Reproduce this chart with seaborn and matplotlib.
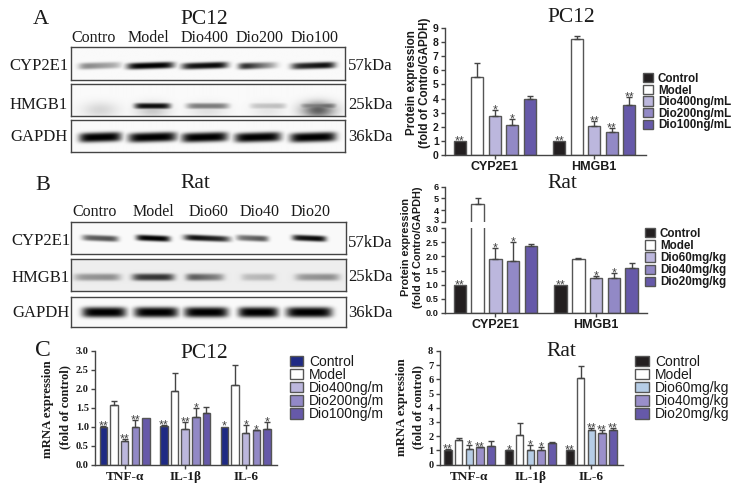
import matplotlib
matplotlib.use("Agg")
import matplotlib.pyplot as plt
from matplotlib.transforms import ScaledTranslation
import seaborn as sns
import pandas as pd
import numpy as np

W, H = 738, 487
SERIF = "Liberation Serif"
SANS = "Liberation Sans"
EDGE = "#555555"

# --- bar chart values ---
genes_protein = ["CYP2E1", "HMGB1"]
genes_mrna = ["TNF-α", "IL-1β", "IL-6"]

groups_a = ["Control", "Model", "Dio400ng/mL", "Dio200ng/mL", "Dio100ng/mL"]
values_a = [[1.0, 5.55, 2.75, 2.1, 3.95], [1.0, 8.2, 2.05, 1.6, 3.55]]
tops_a = [[1.0, 6.55, 3.2, 2.55, 4.2], [1.0, 8.45, 2.4, 1.9, 4.1]]
stars_a = [["**", "", "*", "*", ""], ["**", "", "**", "**", "**"]]

groups_b = ["Control", "Model", "Dio60mg/kg", "Dio40mg/kg", "Dio20mg/kg"]
values_b = [[1.0, 4.5, 1.9, 1.82, 2.37], [1.0, 1.9, 1.23, 1.23, 1.58]]
tops_b = [[1.0, 5.05, 2.3, 2.5, 2.42], [1.0, 1.93, 1.3, 1.4, 1.75]]
stars_b = [["**", "", "*", "*", ""], ["**", "", "*", "*", ""]]

groups_c1 = ["Control", "Model", "Dio400ng/m", "Dio200ng/m", "Dio100ng/m"]
values_c1 = [[1.0, 1.58, 0.62, 1.0, 1.23], [1.02, 1.94, 0.93, 1.25, 1.36], [1.0, 2.1, 0.82, 0.9, 0.93]]
tops_c1 = [[1.03, 1.67, 0.68, 1.18, 1.24], [1.04, 2.43, 1.12, 1.5, 1.51], [1.01, 2.62, 1.04, 0.92, 1.12]]
stars_c1 = [["**", "", "**", "**", ""], ["**", "", "**", "*", ""], ["*", "", "*", "*", "*"]]

groups_c2 = ["Control", "Model", "Dio60mg/kg", "Dio40mg/kg", "Dio20mg/kg"]
values_c2 = [[1.05, 1.72, 1.07, 1.2, 1.3], [1.02, 2.07, 1.05, 1.02, 1.52], [1.02, 6.1, 2.4, 2.22, 2.42]]
tops_c2 = [[1.08, 1.85, 1.35, 1.25, 1.65], [1.04, 2.95, 1.35, 1.25, 1.57], [1.05, 6.95, 2.55, 2.45, 2.55]]
stars_c2 = [["**", "", "*", "**", ""], ["*", "", "*", "*", ""], ["**", "", "**", "**", "**"]]

palette_purple = ["#231f20", "#ffffff", "#bcb7dd", "#9289c6", "#6659a9"]
palette_navy = ["#1f2a84", "#ffffff", "#bcb7dd", "#9289c6", "#6659a9"]
palette_blue = ["#231f20", "#ffffff", "#b6cde6", "#9a8fca", "#6659a9"]

# --- western blots: band darkness per lane, left and right end of the band ---
lanes_a = ["Contro", "Model", "Dio400", "Dio200", "Dio100"]
lanes_b = ["Contro", "Model", "Dio60", "Dio40", "Dio20"]
a_cyp_left = [0.5, 1.0, 0.9, 1.0, 0.8]
a_cyp_right = [0.28, 1.0, 1.0, 0.2, 1.0]
a_hmgb_left = [0.03, 0.95, 0.5, 0.2, 0.45]
a_hmgb_right = [0.05, 0.95, 0.5, 0.25, 0.6]
a_hmgb_smear = [0.14, 0.2, 0.1, 0.08, 0.62]
a_gapdh_left = [1.0, 1.0, 1.0, 1.0, 1.0]
a_gapdh_right = [1.0, 1.0, 1.0, 1.0, 1.0]
b_cyp_left = [0.6, 1.0, 1.0, 0.5, 0.9]
b_cyp_right = [0.7, 1.0, 0.8, 0.7, 1.0]
b_hmgb_left = [0.35, 0.75, 0.68, 0.2, 0.35]
b_hmgb_right = [0.42, 0.8, 0.4, 0.25, 0.42]
b_gapdh_left = [1.0, 1.0, 1.0, 1.0, 1.0]
b_gapdh_right = [1.0, 1.0, 1.0, 1.0, 1.0]

sns.set_theme(style="ticks")
plt.rcParams["font.family"] = [SANS, "DejaVu Sans"]
fig = plt.figure(figsize=(W / 100, H / 100), dpi=100)


def px_axes(x0, y0, x1, y1):
    return fig.add_axes([x0 / W, 1 - y1 / H, (x1 - x0) / W, (y1 - y0) / H])


def px_text(x, y, s, size=12, family=SERIF, ha="center", weight="normal", rotation=0, color="#1a1a1a"):
    fig.text(x / W, 1 - y / H, s, fontsize=size, family=family, ha=ha, va="center",
             weight=weight, rotation=rotation, color=color)


def draw_blot(rect, centers, widths, left, right, y_frac, thick, tilt=0.0, smear=None, bg=0.98):
    x0, y0, x1, y1 = rect
    ax = px_axes(x0, y0, x1, y1)
    xs, ys = np.meshgrid(np.arange(x0, x1, 0.5), np.arange(y0, y1, 0.5))
    yc = y0 + y_frac * (y1 - y0)
    dark = np.zeros_like(xs)
    for i, c in enumerate(centers):
        w = widths[i]
        line = yc - tilt * (xs - c)
        across = np.exp(-np.abs((ys - line) / thick) ** 3)
        along = np.exp(-((xs - c) / (w * 0.5)) ** 6)
        share = np.clip((xs - c) / w + 0.5, 0, 1)
        level = left[i] + (right[i] - left[i]) * share
        dark = np.maximum(dark, level * along * across)
        if smear is not None:
            blob = np.exp(-((xs - c) / (w * 0.45)) ** 2 - ((ys - (yc + 4)) / 8.0) ** 2)
            dark = np.maximum(dark, smear[i] * blob)
    ax.imshow(bg - dark * bg, cmap="gray", vmin=0, vmax=1, aspect="auto", interpolation="bilinear")
    ax.set_xticks([])
    ax.set_yticks([])
    for s in ax.spines.values():
        s.set_color("#444444")
        s.set_linewidth(1.0)


def long_table(cats, groups, values):
    rows = []
    for j, cat in enumerate(cats):
        for i, g in enumerate(groups):
            rows.append({"cat": cat, "group": g, "value": values[j][i]})
    return pd.DataFrame(rows)


def draw_bars(ax, cats, groups, values, tops, stars, palette, legend=False, star_size=9):
    df = long_table(cats, groups, values)
    sns.barplot(data=df, x="cat", y="value", hue="group", hue_order=groups, order=cats, palette=palette,
                saturation=1, width=0.88, gap=0.3, errorbar=None, edgecolor=EDGE, linewidth=1.0,
                legend=legend, ax=ax)
    # the errorbars add containers too, so keep only the bars
    for i, cont in enumerate(list(ax.containers)[:len(groups)]):
        for j, bar in enumerate(cont):
            x = bar.get_x() + bar.get_width() / 2
            up = tops[j][i] - values[j][i]
            if up > 0.02:
                ax.errorbar(x, values[j][i], yerr=[[0], [up]], fmt="none", ecolor="#444444",
                            elinewidth=1.0, capsize=2, capthick=1.0)
            if stars[j][i]:
                ax.annotate(stars[j][i], (x, tops[j][i]), xytext=(0, -2.5), textcoords="offset points",
                            ha="center", va="baseline", fontsize=star_size, color="#444444", family=SANS)
    ax.set_xlabel("")
    ax.set_ylabel("")
    sns.despine(ax=ax)
    for s in ("left", "bottom"):
        ax.spines[s].set_color("#444444")
        ax.spines[s].set_linewidth(1.0)
    ax.tick_params(labelcolor="#1a1a1a", color="#444444", length=3, width=1.0, pad=1.5)


def style_labels(ax, family, tick_size, cat_size):
    for t in ax.get_yticklabels():
        t.set_fontsize(tick_size)
        t.set_family(family)
        t.set_weight("bold")
    for t in ax.get_xticklabels():
        t.set_fontsize(cat_size)
        t.set_family(family)
        t.set_weight("bold")


def place_legend(ax, x, y, size, hw, hh, pitch, weight="bold"):
    fs_px = size * 100 / 72
    ax.legend(frameon=False, loc="upper left", bbox_to_anchor=(x / W, 1 - y / H), bbox_transform=fig.transFigure,
              borderpad=0, borderaxespad=0, prop={"family": SANS, "size": size, "weight": weight},
              handlelength=hw / fs_px, handleheight=hh / fs_px, handletextpad=0.42,
              labelspacing=(pitch - max(hh, fs_px)) / fs_px, labelcolor="#1a1a1a")


# panel letters and titles
px_text(41, 19, "A", size=16)
px_text(43, 185, "B", size=16)
px_text(43, 350, "C", size=17)
px_text(204, 19, "PC12", size=15.5)
px_text(571, 18, "PC12", size=15.5)
px_text(195, 183, "Rat", size=15.5)
px_text(562, 184, "Rat", size=15.5)
px_text(204, 354, "PC12", size=15.5)
px_text(561, 352, "Rat", size=15.5)

# panel A blots
for x, name in zip([94, 148, 205, 260, 315], lanes_a):
    px_text(x, 38, name, size=11.5)
draw_blot((71, 47, 345, 80), [100, 150, 204, 258, 312], [42, 47, 46, 40, 44], a_cyp_left, a_cyp_right, 0.57, 3.2, tilt=0.03)
draw_blot((71, 84, 345, 116), [100, 152, 207, 267, 317], [40, 36, 42, 36, 36], a_hmgb_left, a_hmgb_right, 0.68, 3.0, smear=a_hmgb_smear)
draw_blot((71, 120, 345, 152), [100, 152, 204, 257, 312], [42, 48, 46, 46, 46], a_gapdh_left, a_gapdh_right, 0.53, 4.8, tilt=0.03)
for y, name, kda in zip([66, 105, 137], ["CYP2E1", "HMGB1", "GAPDH"], ["57kDa", "25kDa", "36kDa"]):
    px_text(68, y, name, ha="right")
    px_text(348, y, kda, ha="left")

# panel B blots
for x, name in zip([95, 153, 209, 260, 311], lanes_b):
    px_text(x, 212, name, size=11.5)
draw_blot((71, 222, 346, 254), [100, 153, 207, 252, 309], [36, 34, 46, 32, 34], b_cyp_left, b_cyp_right, 0.5, 3.0, tilt=-0.04)
draw_blot((71, 259, 346, 291), [97, 153, 205, 258, 317], [46, 42, 38, 34, 44], b_hmgb_left, b_hmgb_right, 0.56, 3.6, bg=0.93)
draw_blot((71, 297, 346, 327), [104, 156, 206, 258, 309], [44, 44, 44, 40, 46], b_gapdh_left, b_gapdh_right, 0.5, 5.2)
for y, y2, name, kda in zip([241, 278, 313], [243, 277, 313], ["CYP2E1", "HMGB1", "GAPDH"], ["57kDa", "25kDa", "36kDa"]):
    px_text(70, y, name, ha="right")
    px_text(348, y2, kda, ha="left")

# top right: PC12 protein
ax_a = px_axes(445, 28, 646, 155)
draw_bars(ax_a, genes_protein, groups_a, values_a, tops_a, stars_a, palette_purple, legend=True)
ax_a.set_ylim(0, 9)
ax_a.set_yticks(range(0, 10))
ax_a.set_xlim(-0.5, 1.52)
style_labels(ax_a, SANS, 7.5, 9)
place_legend(ax_a, 643, 73, 8.4, 10, 9.5, 11.2)
px_text(412.5, 83, "Protein expression", size=8.4, family=SANS, weight="bold", rotation=90)
px_text(425.5, 83, "(fold of Contro/GAPDH)", size=8.4, family=SANS, weight="bold", rotation=90)

# middle right: rat protein, broken axis
ax_b = px_axes(445, 228, 647, 313)
draw_bars(ax_b, genes_protein, groups_b, values_b, tops_b, stars_b, palette_purple, legend=True)
ax_b.set_ylim(0, 3)
ax_b.set_yticks(np.arange(0, 3.1, 0.5))
ax_b.set_yticklabels(["0.0", "0.5", "1.0", "1.5", "2.0", "2.5", "3.0"])
ax_b.set_xlim(-0.5, 1.505)
style_labels(ax_b, SANS, 6.6, 9)
place_legend(ax_b, 645, 228, 8.4, 10, 9.5, 11.7)

ax_b_top = px_axes(445, 186.5, 647, 222)
draw_bars(ax_b_top, genes_protein, groups_b, values_b, tops_b, [[""] * 5, [""] * 5], palette_purple)
ax_b_top.set_ylim(3, 6)
ax_b_top.set_yticks([3, 4, 5, 6])
ax_b_top.set_xlim(-0.5, 1.505)
ax_b_top.spines["bottom"].set_visible(False)
ax_b_top.tick_params(axis="x", bottom=False, labelbottom=False)
style_labels(ax_b_top, SANS, 6.6, 9)
# keep the two labels at the axis break apart
label_3 = ax_b_top.get_yticklabels()[0]
label_3.set_transform(label_3.get_transform() + ScaledTranslation(0, 2 / 72, fig.dpi_scale_trans))
px_text(406, 247, "Protein expression", size=7.8, family=SANS, weight="bold", rotation=90)
px_text(418.5, 247, "(fold of Contro/GAPDH)", size=7.8, family=SANS, weight="bold", rotation=90)

# bottom left: PC12 mRNA
ax_c1 = px_axes(95, 351, 277, 464.5)
draw_bars(ax_c1, genes_mrna, groups_c1, values_c1, tops_c1, stars_c1, palette_navy, legend=True)
ax_c1.set_ylim(0, 3)
ax_c1.set_yticks(np.arange(0, 3.1, 0.5))
ax_c1.set_yticklabels(["0.0", "0.5", "1.0", "1.5", "2.0", "2.5", "3.0"])
ax_c1.set_xlim(-0.49, 2.517)
style_labels(ax_c1, SERIF, 7.5, 9.5)
place_legend(ax_c1, 290, 355, 10, 13, 10.5, 13, weight="normal")
px_text(48, 409, "mRNA expression", size=9.2, weight="bold", rotation=90)
px_text(65, 407, "(fold of control)", size=9, weight="bold", rotation=90)

# bottom right: rat mRNA
ax_c2 = px_axes(439.5, 351, 623, 464.5)
draw_bars(ax_c2, genes_mrna, groups_c2, values_c2, tops_c2, stars_c2, palette_blue, legend=True)
ax_c2.set_ylim(0, 8)
ax_c2.set_yticks(range(0, 9))
ax_c2.set_xlim(-0.49, 2.52)
style_labels(ax_c2, SERIF, 7.5, 9.5)
place_legend(ax_c2, 635, 355, 10, 14, 10.5, 13, weight="normal")
px_text(402, 407, "mRNA expression", size=9.2, weight="bold", rotation=90)
px_text(418, 407, "(fold of control)", size=9, weight="bold", rotation=90)

fig.savefig("out.png", dpi=100)
